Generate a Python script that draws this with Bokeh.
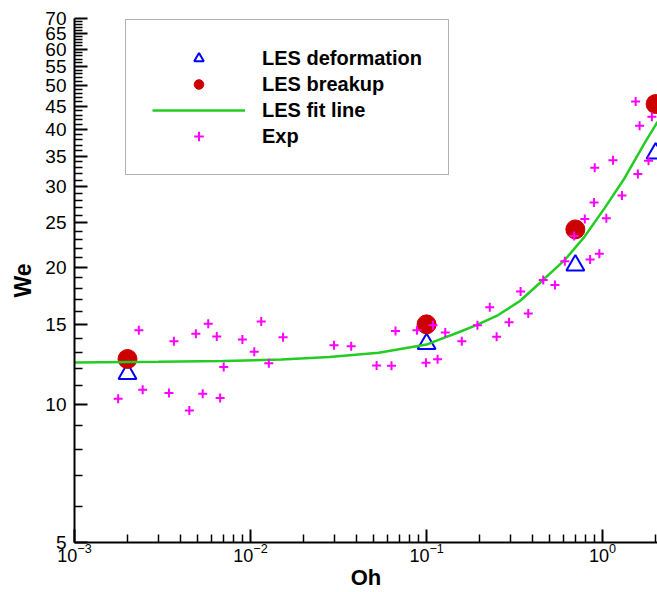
from bokeh.plotting import figure
from bokeh.models import FixedTicker, PrintfTickFormatter, Legend, LegendItem, Range1d
from bokeh.embed import file_html
from bokeh.resources import INLINE

# ---- data ----
oh_les = [0.002, 0.1, 0.7, 2.0]
we_deformation = [11.7, 13.6, 20.2, 35.5]
we_breakup = [12.6, 15.0, 24.2, 45.5]

oh_fit = [0.001, 0.003, 0.007, 0.015, 0.028, 0.0535, 0.1, 0.116, 0.151, 0.192, 0.255, 0.339,
          0.459, 0.61, 0.792, 1.029, 1.337, 1.738, 1.99, 2.05]
we_fit = [12.38, 12.42, 12.47, 12.57, 12.73, 13.0, 13.55, 13.85, 14.4, 14.94, 15.72, 16.87,
          18.76, 20.75, 23.37, 26.97, 31.39, 37.47, 40.8, 41.6]

oh_exp = [0.00177, 0.00232, 0.00244, 0.00344, 0.00367, 0.00449, 0.00489, 0.00535, 0.00575,
          0.00643, 0.00672, 0.00704, 0.00899, 0.0105, 0.0115, 0.0127, 0.0153, 0.0298, 0.0373,
          0.052, 0.0632, 0.0666, 0.0882, 0.0992, 0.1087, 0.1155, 0.1277, 0.1585, 0.1945, 0.2285,
          0.25, 0.294, 0.342, 0.378, 0.46, 0.536, 0.61, 0.689, 0.792, 0.849, 0.958, 0.894, 1.05,
          1.288, 0.902, 1.145, 1.585, 1.823, 1.622, 1.54, 1.905]
we_exp = [10.31, 14.57, 10.79, 10.61, 13.78, 9.72, 14.30, 10.57, 15.05,
          14.11, 10.35, 12.10, 13.9, 13.06, 15.22, 12.33, 14.06, 13.5, 13.43,
          12.2, 12.18, 14.5, 14.57, 12.37, 14.94, 12.58, 14.4, 13.78, 14.94, 16.34,
          14.09, 15.17, 17.7, 15.85, 18.76, 18.29, 20.6, 23.4, 25.5, 20.8, 21.4, 27.7, 25.6,
          28.7, 33.0, 34.3, 32.0, 34.2, 40.8, 46.1, 42.7]

x_major = [0.001, 0.01, 0.1, 1.0]
x_minor = [k * d for d in (0.001, 0.01, 0.1, 1.0) for k in range(2, 10) if k * d <= 2.05]
y_major = [5, 10, 15, 20, 25, 30, 35, 40, 45, 50, 55, 60, 65, 70]
y_minor = [v for v in range(5, 71) if v % 5 != 0]

FONT = "Liberation Sans"

p = figure(width=657, height=592, x_axis_type="log", y_axis_type="log",
           x_range=Range1d(0.001, 2.05), y_range=Range1d(5, 70),
           output_backend="svg", toolbar_location=None,
           min_border_left=74, min_border_right=0, min_border_top=18, min_border_bottom=49)
p.outline_line_color = None
p.xgrid.visible = False
p.ygrid.visible = False
p.background_fill_color = "white"

r_tri = p.scatter(oh_les, we_deformation, marker="triangle", size=18, fill_color=None,
                  line_color="#0000FF", line_width=2)
r_cir = p.scatter(oh_les, we_breakup, marker="circle", size=19, fill_color="#CC0000",
                  line_color="#CC0000")
r_fit = p.line(oh_fit, we_fit, line_color="#22CC22", line_width=2.5)
r_exp = p.scatter(oh_exp, we_exp, marker="cross", size=9, line_color="#FF00FF", line_width=2)

for ax in (p.xaxis[0], p.yaxis[0]):
    ax.axis_line_width = 2
    ax.axis_line_color = "black"
    ax.major_tick_in = 13
    ax.major_tick_out = 0
    ax.minor_tick_in = 8
    ax.minor_tick_out = 0
    ax.major_tick_line_width = 2
    ax.minor_tick_line_width = 1.5
    ax.major_label_text_font = FONT
    ax.major_label_text_font_size = "19px"
    ax.major_label_text_color = "black"
    ax.axis_label_text_font = FONT
    ax.axis_label_text_font_style = "bold"
    ax.axis_label_text_font_size = "23px"
    ax.axis_label_text_color = "black"

p.xaxis.ticker = FixedTicker(ticks=x_major, minor_ticks=x_minor)
p.yaxis.ticker = FixedTicker(ticks=y_major, minor_ticks=y_minor)
p.yaxis.formatter = PrintfTickFormatter(format="%d")
p.xaxis.axis_label = "Oh"
p.yaxis.axis_label = "We"
p.xaxis.major_label_text_font_size = "18px"
p.xaxis.major_label_standoff = 0
p.xaxis.axis_label_standoff = 0
p.xaxis.axis_label_text_font_size = "22px"
p.yaxis.major_label_standoff = 8
p.yaxis.axis_label_standoff = 6

legend = Legend(items=[
    LegendItem(label="LES deformation", renderers=[r_tri]),
    LegendItem(label="LES breakup", renderers=[r_cir]),
    LegendItem(label="LES fit line", renderers=[r_fit]),
    LegendItem(label="Exp", renderers=[r_exp]),
], location=(51, 367))
legend.label_text_font = FONT
legend.label_text_font_style = "bold"
legend.label_text_font_size = "20px"
legend.label_text_color = "black"
legend.padding = 26
legend.spacing = 2
legend.label_height = 24
legend.glyph_height = 24
legend.glyph_width = 93
legend.label_standoff = 17
legend.margin = 0
legend.border_line_color = "#666666"
legend.border_line_width = 1.5
legend.background_fill_color = "white"
legend.background_fill_alpha = 1.0
p.add_layout(legend)

open("out.html", "w").write(file_html(p, INLINE))
